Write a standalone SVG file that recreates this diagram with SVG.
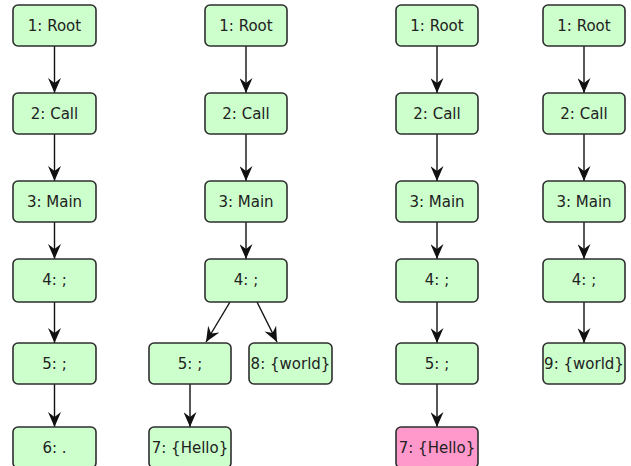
<svg xmlns="http://www.w3.org/2000/svg" width="631" height="466" viewBox="0 0 631 466">
  <style>
    .node rect { fill: #ccffcc; stroke: #2e2e2e; stroke-width: 1.6; }
    .node.hot rect { fill: #ff99cc; }
    .node text { font-family: "DejaVu Sans", sans-serif; font-size: 15px; fill: #222222; text-anchor: middle; dominant-baseline: central; }
    .edge { stroke: #111111; stroke-width: 1.4; fill: none; marker-end: url(#arrow); }
  </style>
  <defs>
    <marker id="arrow" viewBox="0 0 15 13" refX="15" refY="6.5" markerWidth="15" markerHeight="13" markerUnits="userSpaceOnUse" orient="auto">
      <path d="M0,0 L15,6.5 L0,13 L5,6.5 z" fill="#111111"/>
    </marker>
  </defs>
  <rect width="631" height="466" fill="#ffffff"/>

  <!-- connectors -->
  <g id="edges">
    <!-- tree A -->
    <line class="edge" x1="54.5" y1="46" x2="54.5" y2="93"/>
    <line class="edge" x1="54.5" y1="134" x2="54.5" y2="181"/>
    <line class="edge" x1="54.5" y1="222" x2="54.5" y2="259"/>
    <line class="edge" x1="54.5" y1="302" x2="54.5" y2="343"/>
    <line class="edge" x1="54.5" y1="384" x2="54.5" y2="427"/>
    <!-- tree B -->
    <line class="edge" x1="246" y1="46" x2="246" y2="93"/>
    <line class="edge" x1="246" y1="134" x2="246" y2="181"/>
    <line class="edge" x1="246" y1="222" x2="246" y2="259"/>
    <line class="edge" x1="230" y1="302" x2="206" y2="342"/>
    <line class="edge" x1="257" y1="302" x2="277" y2="342"/>
    <line class="edge" x1="190" y1="384" x2="190" y2="427"/>
    <!-- tree C -->
    <line class="edge" x1="437" y1="46" x2="437" y2="93"/>
    <line class="edge" x1="437" y1="134" x2="437" y2="181"/>
    <line class="edge" x1="437" y1="222" x2="437" y2="259"/>
    <line class="edge" x1="437" y1="302" x2="437" y2="343"/>
    <line class="edge" x1="437" y1="384" x2="437" y2="427"/>
    <!-- tree D -->
    <line class="edge" x1="584" y1="46" x2="584" y2="93"/>
    <line class="edge" x1="584" y1="134" x2="584" y2="181"/>
    <line class="edge" x1="584" y1="222" x2="584" y2="259"/>
    <line class="edge" x1="584" y1="302" x2="584" y2="343"/>
  </g>

  <!-- tree A -->
  <g id="a1" class="node"><rect x="13" y="5" width="83" height="41" rx="5"/><text x="54.5" y="26">1: Root</text></g>
  <g id="a2" class="node"><rect x="13" y="93" width="83" height="41" rx="5"/><text x="54.5" y="114">2: Call</text></g>
  <g id="a3" class="node"><rect x="13" y="181" width="83" height="41" rx="5"/><text x="54.5" y="202">3: Main</text></g>
  <g id="a4" class="node"><rect x="13" y="259" width="83" height="43" rx="5"/><text x="54.5" y="280">4: ;</text></g>
  <g id="a5" class="node"><rect x="13" y="343" width="83" height="41" rx="5"/><text x="54.5" y="364">5: ;</text></g>
  <g id="a6" class="node"><rect x="13" y="427" width="83" height="41" rx="5"/><text x="54.5" y="448">6: .</text></g>

  <!-- tree B -->
  <g id="b1" class="node"><rect x="205" y="5" width="82" height="41" rx="5"/><text x="246" y="26">1: Root</text></g>
  <g id="b2" class="node"><rect x="205" y="93" width="82" height="41" rx="5"/><text x="246" y="114">2: Call</text></g>
  <g id="b3" class="node"><rect x="205" y="181" width="82" height="41" rx="5"/><text x="246" y="202">3: Main</text></g>
  <g id="b4" class="node"><rect x="205" y="259" width="82" height="43" rx="5"/><text x="246" y="280">4: ;</text></g>
  <g id="b5" class="node"><rect x="149" y="343" width="82" height="41" rx="5"/><text x="190" y="364">5: ;</text></g>
  <g id="b8" class="node"><rect x="249" y="343" width="83" height="41" rx="5"/><text x="290.5" y="364">8: {world}</text></g>
  <g id="b7" class="node"><rect x="149" y="427" width="82" height="41" rx="5"/><text x="190" y="448">7: {Hello}</text></g>

  <!-- tree C -->
  <g id="c1" class="node"><rect x="396" y="5" width="82" height="41" rx="5"/><text x="437" y="26">1: Root</text></g>
  <g id="c2" class="node"><rect x="396" y="93" width="82" height="41" rx="5"/><text x="437" y="114">2: Call</text></g>
  <g id="c3" class="node"><rect x="396" y="181" width="82" height="41" rx="5"/><text x="437" y="202">3: Main</text></g>
  <g id="c4" class="node"><rect x="396" y="259" width="82" height="43" rx="5"/><text x="437" y="280">4: ;</text></g>
  <g id="c5" class="node"><rect x="396" y="343" width="82" height="41" rx="5"/><text x="437" y="364">5: ;</text></g>
  <g id="c7" class="node hot"><rect x="396" y="427" width="82" height="41" rx="5"/><text x="437" y="448">7: {Hello}</text></g>

  <!-- tree D -->
  <g id="d1" class="node"><rect x="543" y="5" width="82" height="41" rx="5"/><text x="584" y="26">1: Root</text></g>
  <g id="d2" class="node"><rect x="543" y="93" width="82" height="41" rx="5"/><text x="584" y="114">2: Call</text></g>
  <g id="d3" class="node"><rect x="543" y="181" width="82" height="41" rx="5"/><text x="584" y="202">3: Main</text></g>
  <g id="d4" class="node"><rect x="543" y="259" width="82" height="43" rx="5"/><text x="584" y="280">4: ;</text></g>
  <g id="d9" class="node"><rect x="543" y="343" width="82" height="41" rx="5"/><text x="584" y="364">9: {world}</text></g>
</svg>
